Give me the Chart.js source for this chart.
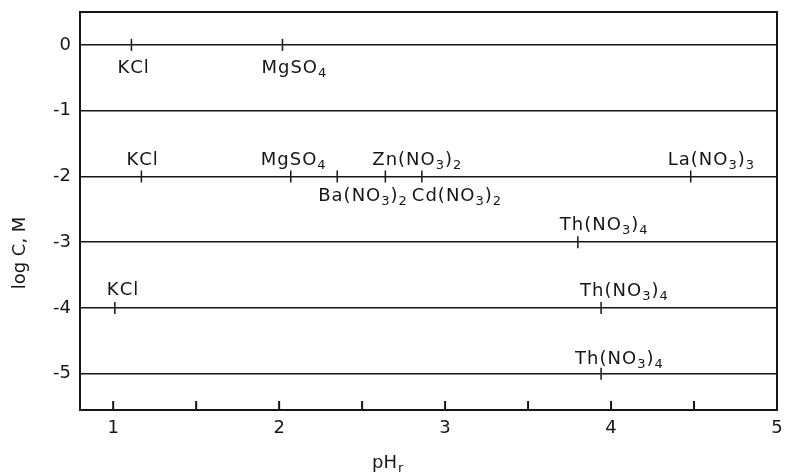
<!DOCTYPE html>
<html lang="en">
<head>
  <meta charset="UTF-8">
  <title>log C vs pHr</title>
  <script src="https://cdn.jsdelivr.net/npm/chart.js"></script>
  <style>
    body { margin: 0; background: #fff; }
    canvas { display: block; }
  </style>
</head>
<body>
  <canvas id="phChart" width="785" height="473"></canvas>

  <script>
    // concentration levels (one horizontal line per level)
    const rowLevels = [0, -1, -2, -3, -4, -5];
    // x-axis tick marks, labels only on whole numbers
    const xTickValues = [1, 1.5, 2, 2.5, 3, 3.5, 4, 4.5, 5];

    // salts and where their pHr mark sits
    const salts   = ['KCl', 'MgSO4', 'KCl', 'MgSO4', 'Ba(NO3)2', 'Zn(NO3)2', 'Cd(NO3)2', 'La(NO3)3', 'Th(NO3)4', 'KCl', 'Th(NO3)4', 'Th(NO3)4'];
    const phValues = [1.11, 2.02, 1.17, 2.07, 2.35, 2.64, 2.86, 4.48, 3.80, 1.01, 3.94, 3.94];
    const logC     = [0, 0, -2, -2, -2, -2, -2, -2, -3, -4, -4, -5];

    // label placement around each mark: [dx, dy] in px from the mark to the text baseline start
    const labelOffsets = [
      [-14, 28], [-21, 28],
      [-15, -11], [-30, -11], [-19, 25], [-13, -11], [-10, 25], [-23, -11],
      [-18, -12],
      [-8, -13], [-21, -12],
      [-26, -10]
    ];

    const ink = '#161616';
    const fontFamily = '"DejaVu Sans", "Liberation Sans", sans-serif';

    // draw a formula with numbers after letters/brackets as subscripts
    function drawFormula(ctx, text, x, y) {
      let cx = x;
      for (let i = 0; i < text.length; i++) {
        const ch = text[i];
        const isSub = /[0-9]/.test(ch) && i > 0 && /[A-Za-z)]/.test(text[i - 1]);
        ctx.font = isSub ? '13px ' + fontFamily : '18px ' + fontFamily;
        ctx.fillText(ch, cx, isSub ? y + 4 : y);
        cx += ctx.measureText(ch).width + 1;
      }
    }

    const framePlugin = {
      id: 'frame',
      afterDraw(chart) {
        const { ctx, chartArea: a, scales } = chart;
        ctx.save();
        ctx.strokeStyle = ink;
        ctx.lineWidth = 2;
        ctx.strokeRect(a.left, a.top, a.right - a.left, a.bottom - a.top);

        // inward ticks along the bottom edge
        ctx.lineWidth = 2;
        xTickValues.forEach(v => {
          const px = scales.x.getPixelForValue(v);
          if (px <= a.left + 1 || px >= a.right - 1) return;
          ctx.beginPath();
          ctx.moveTo(px, a.bottom);
          ctx.lineTo(px, a.bottom - 9);
          ctx.stroke();
        });

        // salt labels
        ctx.fillStyle = ink;
        ctx.textAlign = 'left';
        ctx.textBaseline = 'alphabetic';
        salts.forEach((name, i) => {
          const px = scales.x.getPixelForValue(phValues[i]);
          const py = scales.y.getPixelForValue(logC[i]);
          drawFormula(ctx, name, px + labelOffsets[i][0], py + labelOffsets[i][1]);
        });

        // axis titles
        ctx.font = '18px ' + fontFamily;
        ctx.fillText('pH', 372, 468);
        const w = ctx.measureText('pH').width;
        ctx.font = '13px ' + fontFamily;
        ctx.fillText('r', 372 + w + 1, 472);

        ctx.translate(25, 253);
        ctx.rotate(-Math.PI / 2);
        ctx.font = '18px ' + fontFamily;
        ctx.textAlign = 'center';
        ctx.fillText('log C, M', 0, 0);
        ctx.restore();
      }
    };

    const ctx = document.getElementById('phChart').getContext('2d');
    new Chart(ctx, {
      type: 'scatter',
      data: {
        datasets: [{
          data: phValues.map((x, i) => ({ x: x, y: logC[i] })),
          pointStyle: 'line',
          rotation: 90,
          radius: 6,
          hoverRadius: 6,
          borderColor: ink,
          borderWidth: 1.5
        }]
      },
      options: {
        responsive: false,
        animation: false,
        layout: { autoPadding: false, padding: { top: 12, right: 8, left: 0, bottom: 0 } },
        plugins: { legend: { display: false }, tooltip: { enabled: false } },
        scales: {
          x: {
            type: 'linear',
            min: 0.8,
            max: 5,
            afterBuildTicks: s => { s.ticks = xTickValues.map(v => ({ value: v })); },
            afterFit: s => { s.height = 63; s.paddingLeft = 0; s.paddingRight = 0; },
            ticks: {
              autoSkip: false,
              maxRotation: 0,
              padding: 8,
              color: ink,
              font: { size: 18, family: fontFamily },
              callback: v => Number.isInteger(v) ? String(v) : ''
            },
            grid: { display: false, drawTicks: false },
            border: { color: ink, width: 2 }
          },
          y: {
            min: -5.55,
            max: 0.5,
            afterBuildTicks: s => { s.ticks = rowLevels.map(v => ({ value: v })); },
            afterFit: s => { s.width = 80; s.paddingTop = 0; s.paddingBottom = 0; },
            ticks: {
              padding: 9,
              color: ink,
              font: { size: 18, family: fontFamily }
            },
            grid: { color: ink, lineWidth: 1.5, drawTicks: false },
            border: { color: ink, width: 2 }
          }
        }
      },
      plugins: [framePlugin]
    });
  </script>
</body>
</html>
